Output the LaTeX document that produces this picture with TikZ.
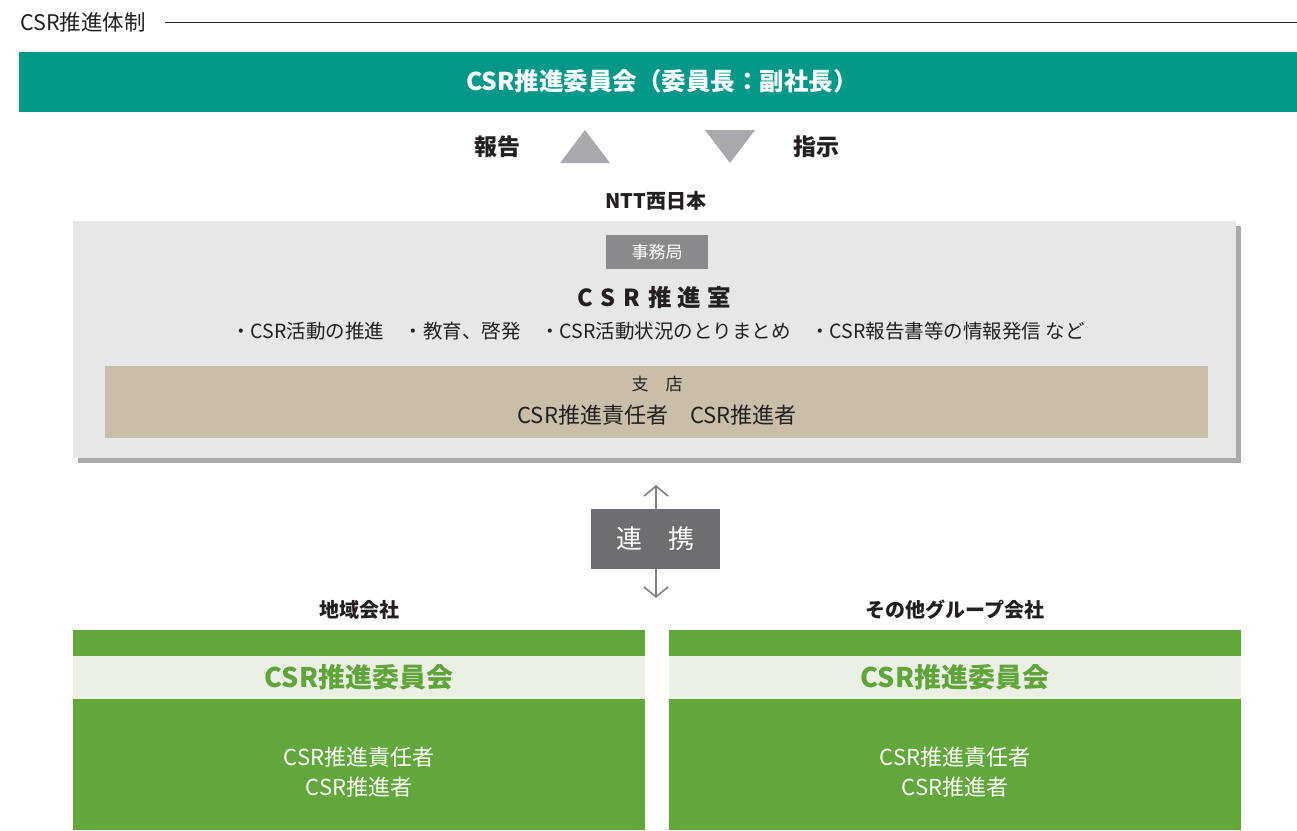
\documentclass[tikz,border=0pt]{standalone}
\usepackage{fontspec}
\setmainfont{Noto Sans CJK JP}
\usetikzlibrary{arrows.meta}
\definecolor{teal}{RGB}{0,152,136}
\definecolor{txt}{RGB}{35,31,32}
\definecolor{tri}{RGB}{167,169,172}
\definecolor{panel}{RGB}{230,231,232}
\definecolor{shadow}{RGB}{168,169,173}
\definecolor{jim}{RGB}{137,138,141}
\definecolor{tan}{RGB}{201,191,169}
\definecolor{renkei}{RGB}{109,110,113}
\definecolor{arr}{RGB}{128,128,130}
\definecolor{gdark}{RGB}{98,167,59}
\definecolor{glight}{RGB}{234,241,228}
\definecolor{gtext}{RGB}{95,165,58}
\newcommand{\fs}[1]{\fontsize{#1}{#1}\selectfont}
\tikzset{
  box/.style={draw=none, inner sep=0pt, outer sep=0pt, anchor=north west},
  lbl/.style={inner sep=0pt, text=txt},
  head/.style={inner sep=0pt, text=txt, font=\fs{20}\bfseries},
}
\begin{document}
\begin{tikzpicture}[x=1pt,y=-1pt]
\useasboundingbox (0,0) rectangle (1297,830);
% title
\node[lbl, anchor=west, font=\fs{21.5}] (title) at (20,22) {CSR推進体制};
\coordinate (tstart) at (165,22);
\coordinate (tend) at (1297,22);
\draw[txt, line width=0.8pt] (tstart) -- (tend);
% top committee
\node[box, fill=teal, minimum width=1278pt, minimum height=60pt] (top) at (19,52) {};
\node[inner sep=0pt, text=white, font=\fs{24.5}\bfseries] (toptxt) at (662,81) {CSR推進委員会（委員長：副社長）};
% report / instruction
\node[lbl, font=\fs{23}\bfseries] (hokoku) at (497,147) {報告};
\node[lbl, font=\fs{23}\bfseries] (shiji) at (816,147) {指示};
\fill[tri] (560,163) -- (610,163) -- (585,130) -- cycle;
\fill[tri] (705,130) -- (755,130) -- (730,163) -- cycle;
% NTT
\node[head] (ntt) at (656,201) {NTT西日本};
\node[box, fill=shadow, minimum width=1163pt, minimum height=237pt] (shad) at (78,226) {};
\node[box, fill=panel, minimum width=1163pt, minimum height=237pt] (panel) at (73,221) {};
\node[box, fill=jim, minimum width=102pt, minimum height=34pt] (jim) at (606,235) {};
\node[inner sep=0pt, text=white, font=\fs{17}] (jimtxt) at (jim.center) {事務局};
\node[lbl, font=\fs{23.5}\bfseries] (csrroom) at (654,298) {C\hspace{8pt}S\hspace{8pt}R\hspace{8pt}推\hspace{6pt}進\hspace{6pt}室};
\node[lbl, font=\fs{19.5}] (bullets) at (658,331) {・CSR活動の推進　・教育、啓発　・CSR活動状況のとりまとめ　・CSR報告書等の情報発信 など};
\node[box, fill=tan, minimum width=1103pt, minimum height=72pt] (branch) at (105,366) {};
\node[lbl, font=\fs{17}] (shiten) at (657,384) {支　店};
\node[lbl, font=\fs{22}] (branchtxt) at (657,415) {CSR推進責任者　CSR推進者};
% renkei
\coordinate (up) at (656,485);
\coordinate (dn) at (656,598);
\draw[arr, line width=1.6pt, {Straight Barb[length=10pt,width=24pt]}-{Straight Barb[length=10pt,width=24pt]}] (up) -- (dn);
\node[box, fill=renkei, minimum width=129pt, minimum height=60pt] (renkei) at (591,509) {};
\node[inner sep=0pt, text=white, font=\fs{26}] (renkeitxt) at (renkei.center) {連　携};
% bottom left
\node[head] (chiiki) at (359,610) {地域会社};
\node[box, fill=gdark, minimum width=572pt, minimum height=200pt] (lg) at (73,630) {};
\node[box, fill=glight, minimum width=572pt, minimum height=43pt] (lgl) at (73,656) {};
\node[inner sep=0pt, text=gtext, font=\fs{27}\bfseries] (lct) at (359,677) {CSR推進委員会};
\node[inner sep=0pt, text=white, font=\fs{22}, align=center] (lwt) at (359,772) {CSR推進責任者\\[8pt]CSR推進者};
% bottom right
\node[head] (other) at (955,610) {その他グループ会社};
\node[box, fill=gdark, minimum width=572pt, minimum height=200pt] (rg) at (669,630) {};
\node[box, fill=glight, minimum width=572pt, minimum height=43pt] (rgl) at (669,656) {};
\node[inner sep=0pt, text=gtext, font=\fs{27}\bfseries] (rct) at (955,677) {CSR推進委員会};
\node[inner sep=0pt, text=white, font=\fs{22}, align=center] (rwt) at (955,772) {CSR推進責任者\\[8pt]CSR推進者};
\end{tikzpicture}
\end{document}
